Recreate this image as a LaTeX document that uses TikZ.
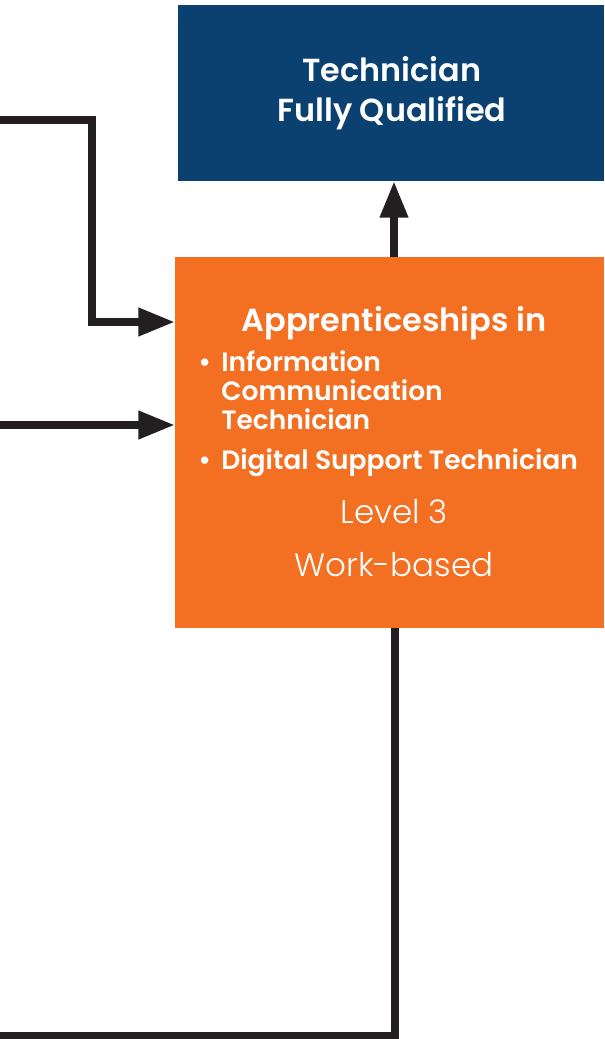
\documentclass[tikz,border=0pt]{standalone}
\usepackage{fontspec}
\setmainfont{Poppins}
\IfFontExistsTF{Poppins SemiBold}{\newfontfamily\hfont{Poppins SemiBold}}{\newfontfamily\hfont[FakeBold=0]{Poppins}\let\oldh\hfont\def\hfont{\oldh\bfseries}}
\IfFontExistsTF{Poppins Light}{\newfontfamily\lfont{Poppins Light}}{\newfontfamily\lfont{Poppins}}
\usetikzlibrary{arrows.meta}
\definecolor{navy}{HTML}{0A4170}
\definecolor{orng}{HTML}{F36F21}
\definecolor{ink}{HTML}{231F20}
\tikzset{
  box/.style={inner sep=0pt, outer sep=0pt, anchor=north west},
  conn/.style={draw=ink, line width=6pt, line join=miter},
  tipped/.style={conn, -{Triangle[length=27.5pt,width=20pt]}},
  wtxt/.style={text=white, inner sep=0pt},
}
\begin{document}
\begin{tikzpicture}[x=0.75pt,y=-0.75pt]
\useasboundingbox (0,0) rectangle (604,1039);
\node[box, fill=navy, minimum width=319.5pt, minimum height=132pt] (top) at (178,5) {};
\node[box, fill=orng, minimum width=321.75pt, minimum height=278.25pt] (appr) at (175,257) {};
% texts
\node[wtxt, anchor=base, font=\hfont\fontsize{23.9}{26}\selectfont] (t1) at (392,81) {Technician};
\node[wtxt, anchor=base, font=\hfont\fontsize{23.9}{26}\selectfont] (t2) at (392,121) {Fully Qualified};
\node[wtxt, anchor=base, font=\hfont\fontsize{24}{26}\selectfont] (a1) at (394,331) {Apprenticeships in};
\node[wtxt, anchor=base west, font=\hfont\fontsize{19.9}{22}\selectfont] (b1) at (198,371) {\textbullet};
\node[wtxt, anchor=base west, font=\hfont\fontsize{19.9}{22}\selectfont] (i1) at (221,371) {Information};
\node[wtxt, anchor=base west, font=\hfont\fontsize{19.9}{22}\selectfont] (i2) at (221,400) {Communication};
\node[wtxt, anchor=base west, font=\hfont\fontsize{19.9}{22}\selectfont] (i3) at (221,429) {Technician};
\node[wtxt, anchor=base west, font=\hfont\fontsize{19.9}{22}\selectfont] (b2) at (198,469) {\textbullet};
\node[wtxt, anchor=base west, font=\hfont\fontsize{19.9}{22}\selectfont] (i4) at (221,469) {Digital Support Technician};
\node[wtxt, anchor=base, font=\lfont\fontsize{24.4}{26}\selectfont] (l3) at (394,523) {Level 3};
\node[wtxt, anchor=base, font=\lfont\fontsize{24.4}{26}\selectfont] (wb) at (394,576) {Work-based};
% connectors
\coordinate (s1) at (0,120);
\coordinate (k1) at (92,120);
\coordinate (k2) at (92,322);
\coordinate (s2) at (0,425);
\coordinate (s3) at (0,1036);
\coordinate (k3) at (395,1036);
\coordinate (u1) at (394,257);
\draw[tipped] (s1) -- (k1) -- (k2) -- (appr.west |- k2);
\draw[tipped] (s2) -- (appr.west |- s2);
\draw[tipped] (appr.north -| u1) -- (top.south -| u1);
\draw[conn] (s3) -- (k3) -- (appr.south -| k3);
\end{tikzpicture}
\end{document}
